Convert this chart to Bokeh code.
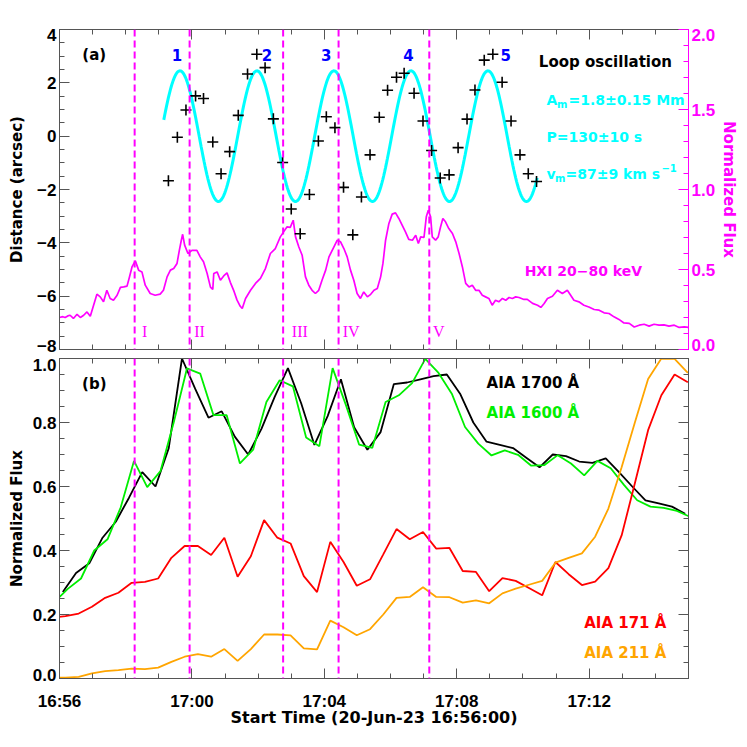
import numpy as np
from bokeh.plotting import figure
from bokeh.models import Range1d, LinearAxis, FixedTicker, Span, Label
from bokeh.layouts import column
from bokeh.embed import file_html
from bokeh.resources import INLINE

# ---------------- data (time in minutes after 16:56:00) ----------------
xtick_vals = [0, 4, 8, 12, 16]
xtick_labels = ["16:56", "17:00", "17:04", "17:08", "17:12"]

dist_ticks = [-8, -6, -4, -2, 0, 2, 4]
dist_tick_labels = ["\u22128", "\u22126", "\u22124", "\u22122", "0", "2", "4"]
flux_ticks_top = [0.0, 0.5, 1.0, 1.5, 2.0]
flux_tick_labels_top = ["0.0", "0.5", "1.0", "1.5", "2.0"]
flux_ticks_bot = [0.0, 0.2, 0.4, 0.6, 0.8, 1.0]
flux_tick_labels_bot = ["0.0", "0.2", "0.4", "0.6", "0.8", "1.0"]

vline_t = [2.27, 3.93, 6.755, 8.43, 11.17]
vline_names = ["I", "II", "III", "IV", "V"]
vline_label_t = [2.57, 4.23, 7.26, 8.81, 11.46]

plus_t = [3.29, 3.56, 3.82, 4.11, 4.35, 4.63, 4.88, 5.14, 5.40, 5.68, 5.96, 6.21,
          6.46, 6.74, 7.00, 7.27, 7.55, 7.82, 8.06, 8.32, 8.58, 8.86, 9.12, 9.38,
          9.66, 9.91, 10.18, 10.41, 10.71, 10.98, 11.24, 11.50, 11.77, 12.04, 12.31,
          12.55, 12.83, 13.09, 13.37, 13.64, 13.91, 14.16, 14.41]
plus_d = [-1.67, -0.04, 0.98, 1.51, 1.41, -0.22, -1.41, -0.58, 0.78, 2.33, 3.07, 2.57,
          0.65, -0.99, -2.73, -3.66, -2.19, -0.18, 0.73, 0.32, -1.92, -3.70, -2.28, -0.70,
          0.71, 1.72, 2.21, 2.36, 1.61, 0.57, -0.54, -1.57, -1.45, -0.43, 0.64,
          1.73, 2.85, 3.07, 2.02, 0.57, -0.70, -1.41, -1.70]

# sinusoidal fit parameters
fit_amplitude = 2.45
fit_period = 2.326
fit_peak_time = 3.638
fit_start = 3.15
fit_end = 14.43

cycle_names = ["1", "2", "3", "4", "5"]
cycle_t = [3.55, 6.27, 8.06, 10.54, 13.48]

hxi_t = [0.00, 0.10, 0.17, 0.25, 0.32, 0.42, 0.53, 0.63, 0.73, 0.83, 0.93, 1.03, 1.13, 1.23,
         1.33, 1.43, 1.53, 1.63, 1.74, 1.84, 1.94, 2.04, 2.11, 2.19, 2.29, 2.39, 2.49, 2.59,
         2.74, 2.89, 3.04, 3.14, 3.25, 3.35, 3.45, 3.55, 3.62, 3.68, 3.72, 3.78, 3.88, 4.00,
         4.15, 4.25, 4.35, 4.46, 4.56, 4.63, 4.66, 4.76, 4.86, 4.96, 5.06, 5.16, 5.26, 5.36,
         5.46, 5.52, 5.62, 5.77, 5.92, 6.07, 6.22, 6.37, 6.52, 6.67, 6.77, 6.87, 6.97, 7.06,
         7.13, 7.23, 7.33, 7.43, 7.53, 7.63, 7.73, 7.83, 7.93, 8.04, 8.14, 8.29, 8.39, 8.49,
         8.59, 8.69, 8.79, 8.89, 8.99, 9.09, 9.19, 9.30, 9.40, 9.50, 9.60, 9.70, 9.77, 9.85,
         9.95, 10.05, 10.15, 10.25, 10.35, 10.45, 10.55, 10.66, 10.76, 10.84, 10.91, 11.01,
         11.08, 11.14, 11.21, 11.26, 11.36, 11.44, 11.51, 11.58, 11.66, 11.76, 11.87, 11.97,
         12.07, 12.17, 12.27, 12.37, 12.47, 12.57, 12.67, 12.77, 12.87, 12.97, 13.07, 13.17,
         13.27, 13.38, 13.48, 13.58, 13.68, 13.78, 13.88, 14.03, 14.13, 14.29, 14.44, 14.54,
         14.64, 14.74, 14.89, 15.04, 15.19, 15.34, 15.44, 15.54, 15.69, 15.84, 15.99, 16.15,
         16.30, 16.45, 16.60, 16.75, 16.90, 17.05, 17.21, 17.36, 17.51, 17.66, 17.81, 17.96,
         18.11, 18.26, 18.41, 18.57, 18.72, 18.87, 19.00]
hxi_f = [0.200, 0.205, 0.200, 0.210, 0.214, 0.194, 0.220, 0.200, 0.214, 0.235, 0.208, 0.277,
         0.346, 0.329, 0.298, 0.370, 0.319, 0.308, 0.339, 0.388, 0.391, 0.396, 0.450, 0.516,
         0.554, 0.496, 0.485, 0.402, 0.350, 0.339, 0.346, 0.370, 0.454, 0.496, 0.506, 0.538,
         0.620, 0.683, 0.720, 0.652, 0.600, 0.620, 0.620, 0.579, 0.548, 0.475, 0.390, 0.375,
         0.475, 0.485, 0.433, 0.460, 0.479, 0.420, 0.370, 0.310, 0.270, 0.256, 0.319, 0.370,
         0.413, 0.444, 0.506, 0.600, 0.631, 0.704, 0.735, 0.766, 0.763, 0.808, 0.704, 0.641,
         0.589, 0.454, 0.402, 0.370, 0.350, 0.370, 0.433, 0.496, 0.579, 0.641, 0.683, 0.673,
         0.631, 0.579, 0.496, 0.433, 0.350, 0.319, 0.360, 0.329, 0.345, 0.370, 0.381, 0.454,
         0.538, 0.683, 0.788, 0.846, 0.854, 0.819, 0.777, 0.735, 0.688, 0.683, 0.714, 0.663,
         0.704, 0.700, 0.829, 0.871, 0.829, 0.704, 0.683, 0.704, 0.766, 0.819, 0.798, 0.756,
         0.725, 0.673, 0.600, 0.516, 0.413, 0.391, 0.402, 0.370, 0.370, 0.339, 0.329, 0.319,
         0.277, 0.308, 0.298, 0.319, 0.308, 0.325, 0.319, 0.329, 0.325, 0.313, 0.313, 0.288,
         0.277, 0.263, 0.288, 0.319, 0.333, 0.370, 0.350, 0.370, 0.339, 0.308, 0.298, 0.277,
         0.266, 0.250, 0.246, 0.229, 0.225, 0.204, 0.188, 0.166, 0.163, 0.141, 0.152, 0.158,
         0.146, 0.158, 0.152, 0.154, 0.146, 0.152, 0.138, 0.141, 0.138]

aia1700_t = [0.1, 0.5, 0.9, 1.3, 1.7, 2.1, 2.5, 2.9, 3.3, 3.7, 4.1, 4.5, 4.9, 5.3, 5.7, 6.1,
             6.5, 6.9, 7.3, 7.7, 8.1, 8.5, 8.9, 9.3, 9.7, 10.1, 10.5, 10.9, 11.3, 11.7, 12.1,
             12.5, 12.9, 13.3, 13.7, 14.1, 14.5, 14.9, 15.3, 15.7, 16.1, 16.5, 16.9, 17.3,
             17.7, 18.1, 18.5, 18.9]
aia1700_f = [0.27, 0.33, 0.36, 0.44, 0.49, 0.565, 0.645, 0.60, 0.72, 1.00, 0.905, 0.815,
             0.835, 0.755, 0.70, 0.78, 0.88, 0.97, 0.86, 0.73, 0.82, 0.935, 0.785, 0.715,
             0.77, 0.92, 0.925, 0.935, 0.945, 0.95, 0.89, 0.80, 0.74, 0.73, 0.72, 0.69,
             0.66, 0.70, 0.695, 0.678, 0.674, 0.688, 0.645, 0.60, 0.557, 0.547, 0.537, 0.515]

aia1600_t = [-0.15, 0.25, 0.65, 1.05, 1.45, 1.85, 2.25, 2.65, 3.05, 3.45, 3.85, 4.25, 4.65,
             5.05, 5.45, 5.85, 6.25, 6.65, 7.05, 7.45, 7.85, 8.25, 8.65, 9.05, 9.45, 9.85,
             10.25, 10.65, 11.05, 11.45, 11.85, 12.25, 12.65, 13.05, 13.45, 13.85, 14.25,
             14.65, 15.05, 15.45, 15.85, 16.25, 16.65, 17.05, 17.45, 17.85, 18.25, 18.65, 19.05]
aia1600_f = [0.24, 0.28, 0.3125, 0.40, 0.435, 0.535, 0.68, 0.598, 0.648, 0.80, 0.969, 0.953,
             0.823, 0.823, 0.672, 0.715, 0.864, 0.932, 0.913, 0.753, 0.726, 0.970, 0.855,
             0.731, 0.721, 0.864, 0.885, 0.923, 0.999, 0.955, 0.89, 0.786, 0.734, 0.697,
             0.713, 0.699, 0.665, 0.667, 0.698, 0.672, 0.635, 0.68, 0.657, 0.605, 0.557,
             0.537, 0.533, 0.524, 0.505]

euv_t = [-0.22, 0.18, 0.58, 0.98, 1.38, 1.78, 2.18, 2.58, 2.98, 3.38, 3.78, 4.18, 4.58, 4.98,
         5.38, 5.78, 6.18, 6.58, 6.98, 7.38, 7.78, 8.18, 8.58, 8.98, 9.38, 9.78, 10.18, 10.58,
         10.98, 11.38, 11.78, 12.18, 12.58, 12.98, 13.38, 13.78, 14.18, 14.58, 14.98, 15.38,
         15.78, 16.18, 16.58, 16.98, 17.38, 17.78, 18.18, 18.58, 18.98]
aia171_f = [0.19, 0.195, 0.203, 0.224, 0.252, 0.268, 0.299, 0.302, 0.3125, 0.377, 0.414,
            0.414, 0.386, 0.44, 0.318, 0.382, 0.495, 0.44, 0.422, 0.32, 0.27, 0.427, 0.364,
            0.29, 0.31, 0.388, 0.467, 0.435, 0.458, 0.406, 0.408, 0.336, 0.333, 0.273, 0.314,
            0.305, 0.283, 0.26, 0.364, 0.326, 0.292, 0.303, 0.345, 0.447, 0.61, 0.776, 0.885,
            0.95, 0.926]
aia211_f = [0.002, 0.003, 0.005, 0.016, 0.023, 0.026, 0.031, 0.029, 0.034, 0.052, 0.068,
            0.076, 0.068, 0.092, 0.055, 0.092, 0.1375, 0.1375, 0.135, 0.094, 0.091, 0.181,
            0.16, 0.135, 0.154, 0.20, 0.252, 0.255, 0.285, 0.255, 0.254, 0.237, 0.244, 0.235,
            0.266, 0.281, 0.293, 0.305, 0.362, 0.377, 0.391, 0.443, 0.531, 0.66, 0.80, 0.936,
            1.0, 0.999, 0.955]

# ---------------- styling helpers ----------------
AXIS_COLOR = "#555555"
MAGENTA = "#ff00ff"
TICK_FONT = "Liberation Sans"
TEXT_FONT = "DejaVu Sans"
x_minor = list(range(0, 20))
# edge tick labels are nudged inward (IDL style); layout offsets only
EDGE_NUDGE_TOP_L = {4: 3.81, -8: -7.85}
EDGE_NUDGE_TOP_R = {2.0: 1.964, 0.0: 0.027}
EDGE_NUDGE_BOT_L = {1.0: 0.979, 0.0: 0.0125}


def tick_axis(ticks, minor, color=AXIS_COLOR, y_range_name="default"):
    """Axis line + inward ticks, no labels."""
    ax = LinearAxis(ticker=FixedTicker(ticks=ticks, minor_ticks=minor),
                    y_range_name=y_range_name)
    ax.axis_line_color = color
    ax.major_tick_line_color = color
    ax.minor_tick_line_color = color
    ax.major_tick_in = 10
    ax.major_tick_out = 0
    ax.minor_tick_in = 5
    ax.minor_tick_out = 0
    ax.major_label_text_font_size = "1px"
    ax.major_label_text_color = None
    ax.major_label_standoff = 0
    return ax


def label_axis(ticks, labels, nudge, color="black", axis_label="", y_range_name="default"):
    """Labels only (no line, no ticks)."""
    pos = [nudge.get(t, t) for t in ticks]
    ax = LinearAxis(ticker=FixedTicker(ticks=pos, minor_ticks=[]),
                    major_label_overrides=dict(zip(pos, labels)),
                    axis_label=axis_label, y_range_name=y_range_name)
    ax.axis_line_color = None
    ax.major_tick_line_color = None
    ax.minor_tick_line_color = None
    ax.major_tick_in = 0
    ax.major_tick_out = 0
    ax.major_label_text_font = TICK_FONT
    ax.major_label_text_font_style = "bold"
    ax.major_label_text_font_size = "17px"
    ax.major_label_text_color = color
    ax.axis_label_text_font = TEXT_FONT
    ax.axis_label_text_font_style = "bold"
    ax.axis_label_text_font_size = "15px"
    ax.axis_label_text_color = color
    return ax


def add_label(p, x, y, text, color, size="15px", align="left", font=TEXT_FONT,
              style="bold", x_offset=0):
    p.add_layout(Label(x=x, y=y, text=text, text_color=color, text_font=font,
                       text_font_size=size, text_font_style=style, text_align=align,
                       text_baseline="middle", x_offset=x_offset))


# ---------------- top panel ----------------
p1 = figure(width=742, height=354, x_range=Range1d(0, 19), y_range=Range1d(-8, 4),
            x_axis_location=None, y_axis_location=None, output_backend="svg",
            toolbar_location=None, min_border_left=59, min_border_right=54,
            min_border_top=29, min_border_bottom=5)
p1.extra_y_ranges = {"flux": Range1d(0, 2)}
p1.outline_line_color = None
p1.xgrid.grid_line_color = None
p1.ygrid.grid_line_color = None

p1.add_layout(tick_axis(dist_ticks, list(np.arange(-8, 4.01, 0.5))), "left")
ax = label_axis(dist_ticks, dist_tick_labels, EDGE_NUDGE_TOP_L, axis_label="Distance (arcsec)")
ax.major_label_standoff = 3
ax.axis_label_standoff = 8
p1.add_layout(ax, "left")

p1.add_layout(tick_axis(flux_ticks_top, list(np.arange(0, 2.01, 0.1)), color=MAGENTA,
                        y_range_name="flux"), "right")
ax = label_axis(flux_ticks_top, flux_tick_labels_top, EDGE_NUDGE_TOP_R, color=MAGENTA,
                axis_label="Normalized Flux", y_range_name="flux")
ax.major_label_standoff = 3
ax.axis_label_standoff = 2
ax.axis_label_orientation = "vertical"
p1.add_layout(ax, "right")
p1.add_layout(tick_axis(xtick_vals, x_minor), "below")
p1.add_layout(tick_axis(xtick_vals, x_minor), "above")

p1.line(hxi_t, hxi_f, y_range_name="flux", line_color=MAGENTA, line_width=1.7)

fit_t = np.linspace(fit_start, fit_end, 400)
fit_d = fit_amplitude * np.cos(2 * np.pi * (fit_t - fit_peak_time) / fit_period)
p1.line(fit_t, fit_d, line_color="#00ffff", line_width=3)
p1.scatter(plus_t, plus_d, marker="cross", size=11, line_color="black", line_width=1.6)

for t in vline_t:
    p1.add_layout(Span(location=t, dimension="height", line_color=MAGENTA,
                       line_width=2, line_dash="7 4"))
for name, t in zip(vline_names, vline_label_t):
    add_label(p1, t, -7.31, name, MAGENTA, size="16px", align="center",
              font="Liberation Serif", style="normal")
for name, t in zip(cycle_names, cycle_t):
    add_label(p1, t, 3.04, name, "#0000ff", size="15px", align="center")

add_label(p1, 1.05, 3.04, "(a)", "black", align="center")
add_label(p1, 14.48, 2.77, "Loop oscillation", "black")
CY = "#00ffff"
add_label(p1, 14.71, 1.375, "A", CY, size="14px")
add_label(p1, 14.71, 1.20, "m", CY, size="10px", x_offset=10.5)
add_label(p1, 14.71, 1.375, "=1.8\u00b10.15 Mm", CY, size="14px", x_offset=22)
add_label(p1, 14.71, -0.04, "P=130\u00b110 s", CY, size="14px")
add_label(p1, 14.71, -1.43, "v", CY, size="14px")
add_label(p1, 14.71, -1.60, "m", CY, size="10px", x_offset=8.5)
add_label(p1, 14.71, -1.43, "=87\u00b19 km s", CY, size="14px", x_offset=19)
add_label(p1, 14.71, -1.20, "\u22121", CY, size="10px", x_offset=115)
add_label(p1, 14.05, -5.05, "HXI 20\u221280 keV", MAGENTA, size="14px")

# ---------------- bottom panel ----------------
p2 = figure(width=742, height=385, x_range=Range1d(0, 19), y_range=Range1d(0, 1),
            x_axis_location=None, y_axis_location=None, output_backend="svg",
            toolbar_location=None, min_border_left=59, min_border_right=54,
            min_border_top=4, min_border_bottom=61)
p2.outline_line_color = None
p2.xgrid.grid_line_color = None
p2.ygrid.grid_line_color = None

bot_minor = list(np.arange(0, 1.001, 0.05))
p2.add_layout(tick_axis(flux_ticks_bot, bot_minor), "left")
ax = label_axis(flux_ticks_bot, flux_tick_labels_bot, EDGE_NUDGE_BOT_L,
                axis_label="Normalized Flux")
ax.major_label_standoff = 3
ax.axis_label_standoff = 4
p2.add_layout(ax, "left")
p2.add_layout(tick_axis(flux_ticks_bot, bot_minor), "right")
p2.add_layout(tick_axis(xtick_vals, x_minor), "above")
p2.add_layout(tick_axis(xtick_vals, x_minor), "below")
ax = label_axis(xtick_vals, xtick_labels, {}, axis_label="Start Time (20-Jun-23 16:56:00)")
ax.axis_label_text_font_size = "16px"
ax.major_label_standoff = 13
ax.axis_label_standoff = -6
p2.add_layout(ax, "below")

p2.line(aia1700_t, aia1700_f, line_color="black", line_width=1.8)
p2.line(aia1600_t, aia1600_f, line_color="#00ee00", line_width=1.8)
p2.line(euv_t, aia171_f, line_color="#ff0000", line_width=1.8)
p2.line(euv_t, aia211_f, line_color="#ffa500", line_width=1.8)

for t in vline_t:
    p2.add_layout(Span(location=t, dimension="height", line_color=MAGENTA,
                       line_width=2, line_dash="7 4"))

add_label(p2, 1.05, 0.92, "(b)", "black", align="center")
add_label(p2, 12.90, 0.922, "AIA 1700 \u00c5", "black")
add_label(p2, 12.90, 0.83, "AIA 1600 \u00c5", "#00ee00")
add_label(p2, 15.85, 0.174, "AIA 171 \u00c5", "#ff0000")
add_label(p2, 15.85, 0.08, "AIA 211 \u00c5", "#ffa500")

layout = column(p1, p2)
open("out.html", "w").write(file_html(layout, INLINE))
